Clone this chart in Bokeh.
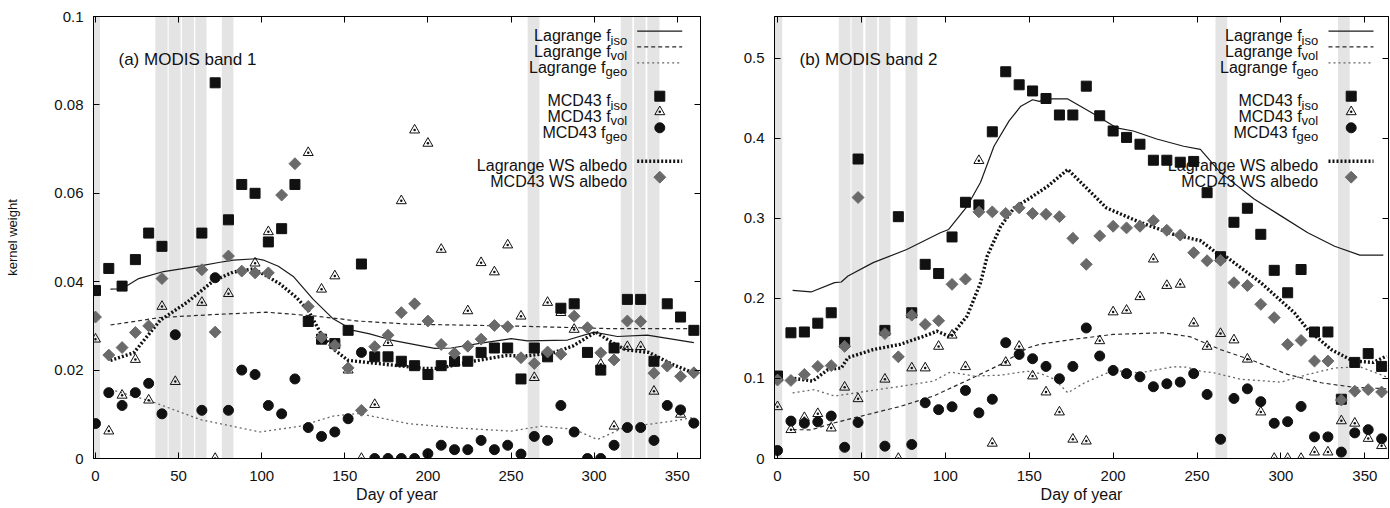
import math
from bokeh.plotting import figure
from bokeh.models import LinearAxis, FixedTicker, Label, Range1d
from bokeh.layouts import row
from bokeh.embed import file_html
from bokeh.resources import INLINE

nan = float("nan")

# ---------------- data ----------------
days = [0, 8, 16, 24, 32, 40, 48, 56, 64, 72, 80, 88, 96, 104, 112, 120, 128, 136, 144, 152,
        160, 168, 176, 184, 192, 200, 208, 216, 224, 232, 240, 248, 256, 264, 272, 280, 288, 296,
        304, 312, 320, 328, 336, 344, 352, 360]

# MODIS band 1 (MCD43 8-day values)
b1_iso = [0.038, 0.043, 0.039, 0.045, 0.051, 0.048, nan, nan, 0.051, 0.085, 0.054, 0.062, 0.060,
          0.049, 0.052, 0.062, 0.031, 0.027, 0.026, 0.029, 0.044, 0.023, 0.023, 0.022, 0.021,
          0.019, 0.021, 0.022, 0.022, 0.024, 0.025, 0.025, 0.018, 0.025, 0.023, 0.034, 0.035,
          0.024, 0.020, 0.025, 0.036, 0.036, 0.022, 0.035, 0.032, 0.029]
b1_vol = [0.027, 0.0062, 0.0143, 0.0224, 0.0132, 0.0344, 0.0174, nan, 0.0353, 0.0, 0.0373, nan,
          0.0442, 0.0513, nan, nan, 0.0692, 0.0383, 0.0413, 0.020, 0.0, 0.0122, 0.0262, 0.0583,
          0.0743, 0.0713, 0.0473, nan, 0.0334, 0.0443, 0.0422, 0.0483, 0.0322, 0.0183, 0.0353,
          0.033, 0.0292, nan, 0.0213, 0.0073, 0.0253, 0.0253, 0.0152, nan, 0.010, nan]
b1_geo = [0.0079, 0.0149, 0.012, 0.0149, 0.017, 0.0101, 0.028, nan, 0.0109, 0.0409, 0.0109,
          0.020, 0.019, 0.012, 0.0101, 0.018, 0.007, 0.005, 0.006, 0.009, 0.024, 0.0, 0.0, 0.0,
          0.0, 0.0011, 0.003, 0.002, 0.002, 0.0041, 0.002, 0.003, 0.001, 0.005, 0.0041, 0.012,
          0.006, 0.0, 0.0, 0.003, 0.007, 0.007, 0.0041, 0.012, 0.011, 0.008]
b1_ws = [0.032, 0.0234, 0.0251, 0.0285, 0.030, 0.0407, nan, nan, 0.0427, 0.0286, 0.0458, 0.0424,
         0.042, 0.042, 0.0596, 0.0667, 0.0344, 0.0274, 0.0256, 0.0205, 0.0109, 0.0253, 0.0279,
         0.033, 0.035, 0.0311, 0.0258, 0.0238, 0.0254, 0.027, 0.0301, 0.0298, 0.0228, 0.0215,
         0.0241, 0.0236, 0.0322, 0.0296, 0.0239, 0.0223, 0.0311, 0.031, 0.0193, 0.0209, 0.0186,
         0.0194]

# Lagrange (daily) curves, band 1, read at knots
b1_lag_iso_day = [9, 16, 26, 41, 63, 75, 83, 97, 101, 110, 119, 131, 143, 155, 165, 178, 204,
                  214, 234, 250, 260, 284, 300, 314, 332, 360]
b1_lag_iso = [0.0383, 0.0384, 0.0407, 0.0423, 0.0436, 0.0444, 0.0449, 0.0452, 0.0449, 0.0435,
              0.0412, 0.036, 0.0316, 0.029, 0.0282, 0.0268, 0.0249, 0.025, 0.0262, 0.0271, 0.0266,
              0.0268, 0.0286, 0.0276, 0.0279, 0.0262]
b1_lag_vol_day = [9, 39, 73, 103, 133, 158, 188, 248, 308, 360]
b1_lag_vol = [0.0302, 0.0319, 0.0326, 0.0331, 0.0322, 0.0311, 0.0304, 0.030, 0.0294, 0.0294]
b1_lag_geo_day = [9, 33, 63, 99, 123, 143, 158, 188, 218, 250, 268, 288, 302, 318, 348, 360]
b1_lag_geo = [0.0156, 0.013, 0.0088, 0.006, 0.0073, 0.0096, 0.0102, 0.0079, 0.0069, 0.0062,
              0.0073, 0.0066, 0.0043, 0.007, 0.0085, 0.0093]
b1_lag_ws_day = [9, 23, 39, 55, 71, 83, 95, 103, 111, 121, 128, 136, 144, 152, 167, 197, 207,
                 227, 247, 259, 275, 287, 301, 311, 319, 333, 347, 360]
b1_lag_ws = [0.0222, 0.0239, 0.0313, 0.0353, 0.0402, 0.0422, 0.0429, 0.0413, 0.0395, 0.0364,
             0.0335, 0.028, 0.0245, 0.0222, 0.0216, 0.0204, 0.0204, 0.022, 0.0233, 0.0232,
             0.0239, 0.0254, 0.0286, 0.0262, 0.0246, 0.024, 0.0213, 0.0193]

# MODIS band 2 (MCD43 8-day values)
b2_iso = [0.103, 0.157, 0.158, 0.169, 0.182, 0.145, 0.374, nan, 0.160, 0.302, 0.182, 0.2425,
          0.231, 0.2767, 0.320, 0.3167, 0.408, 0.483, 0.4667, 0.459, 0.4496, 0.429, 0.429, 0.465,
          0.428, 0.409, 0.401, 0.3925, 0.3725, 0.3725, 0.37, 0.371, 0.332, 0.252, 0.295, 0.3125,
          0.28, 0.235, 0.207, 0.236, 0.158, 0.158, 0.074, 0.120, 0.131, 0.115]
b2_vol = [0.0646, 0.036, 0.051, 0.056, 0.038, 0.089, 0.0746, nan, 0.099, 0.0, 0.113, 0.113,
          0.140, 0.154, 0.1146, 0.372, 0.019, 0.120, 0.140, 0.103, 0.083, 0.058, 0.024, 0.0217,
          0.147, 0.183, 0.185, 0.202, 0.249, 0.216, 0.2175, 0.169, 0.140, 0.156, 0.148, 0.124,
          0.058, 0.0, 0.0, 0.0, 0.008, 0.008, 0.047, 0.044, 0.025, 0.016]
b2_geo = [0.010, 0.0467, 0.044, 0.0458, 0.053, 0.014, 0.045, nan, 0.0154, nan, 0.0175, 0.0696,
          0.061, 0.0646, 0.085, 0.057, 0.074, 0.1446, 0.13, 0.1246, 0.115, 0.0996, 0.115, 0.163,
          0.128, 0.110, 0.106, 0.102, 0.0896, 0.0933, 0.0954, 0.106, 0.080, 0.024, 0.075, 0.087,
          0.071, 0.044, 0.046, 0.065, 0.027, 0.027, 0.008, 0.032, 0.036, 0.0246]
b2_ws = [0.098, 0.0975, 0.105, 0.115, 0.116, 0.140, 0.326, nan, 0.156, 0.127, 0.179, 0.1675,
         0.172, 0.2175, 0.224, 0.308, 0.308, 0.306, 0.313, 0.306, 0.305, 0.302, 0.275, 0.2425,
         0.278, 0.290, 0.288, 0.290, 0.297, 0.285, 0.279, 0.257, 0.247, 0.2475, 0.2196, 0.216,
         0.1925, 0.176, 0.1425, 0.1475, 0.1217, 0.1217, 0.073, 0.084, 0.086, 0.083]

b2_lag_iso_day = [9, 20, 34, 38, 42, 57, 77, 97, 102, 113, 121, 129, 138, 145, 152, 156, 160,
                  173, 187, 202, 212, 226, 242, 252, 264, 284, 300, 316, 332, 347, 361]
b2_lag_iso = [0.210, 0.208, 0.2196, 0.2204, 0.228, 0.2446, 0.261, 0.282, 0.286, 0.315, 0.345,
              0.390, 0.4217, 0.440, 0.448, 0.446, 0.449, 0.449, 0.432, 0.413, 0.409, 0.399,
              0.390, 0.386, 0.357, 0.324, 0.303, 0.282, 0.265, 0.254, 0.254]
b2_lag_vol_day = [9, 20, 34, 50, 73, 93, 113, 133, 149, 157, 177, 200, 230, 246, 264, 284, 304,
                  324, 343, 364]
b2_lag_vol = [0.036, 0.0358, 0.0446, 0.053, 0.065, 0.078, 0.0975, 0.1175, 0.138, 0.143, 0.149,
              0.155, 0.157, 0.152, 0.136, 0.1217, 0.105, 0.0946, 0.089, 0.087]
b2_lag_geo_day = [9, 22, 34, 53, 73, 93, 103, 117, 133, 149, 157, 165, 173, 183, 200, 216, 236,
                  244, 252, 260, 276, 300, 316, 332, 347, 364]
b2_lag_geo = [0.082, 0.086, 0.078, 0.084, 0.090, 0.0967, 0.108, 0.103, 0.104, 0.109, 0.106,
              0.099, 0.082, 0.0946, 0.110, 0.107, 0.1146, 0.114, 0.109, 0.107, 0.099, 0.0954,
              0.105, 0.113, 0.1146, 0.101]
b2_lag_ws_day = [10, 21, 30, 38, 42, 57, 73, 89, 95, 103, 113, 121, 125, 133, 141, 151, 161,
                 173, 185, 196, 216, 236, 252, 264, 268, 288, 308, 316, 330, 343, 355, 363]
b2_lag_ws = [0.100, 0.0967, 0.111, 0.113, 0.126, 0.136, 0.1425, 0.154, 0.159, 0.152, 0.178,
             0.2196, 0.253, 0.290, 0.313, 0.326, 0.340, 0.361, 0.336, 0.313, 0.295, 0.280,
             0.272, 0.253, 0.251, 0.2196, 0.182, 0.161, 0.136, 0.1217, 0.120, 0.128]

# periods without data (grey bands), day of year
b1_gap_start = [-3, 36, 44, 52, 60, 76, 260, 316, 324, 332]
b1_gap_end = [2.7, 43.4, 51.2, 59.3, 66.8, 83, 267.1, 323, 331, 339.3]
b2_gap_start = [-3, 36.5, 44.1, 52.4, 60.4, 76.3, 261, 334]
b2_gap_end = [2.8, 43.5, 51.1, 59.4, 67.3, 83.3, 268, 341]

x_ticks = [0, 50, 100, 150, 200, 250, 300, 350]
x_tick_labels = ["0", "50", "100", "150", "200", "250", "300", "350"]
b1_y_ticks = [0, 0.02, 0.04, 0.06, 0.08, 0.1]
b1_y_tick_labels = ["0", "0.02", "0.04", "0.06", "0.08", "0.1"]
b2_y_ticks = [0, 0.1, 0.2, 0.3, 0.4, 0.5]
b2_y_tick_labels = ["0", "0.1", "0.2", "0.3", "0.4", "0.5"]

legend_main = ["Lagrange f", "Lagrange f", "Lagrange f", "MCD43 f", "MCD43 f", "MCD43 f",
               "Lagrange WS albedo", "MCD43 WS albedo"]
legend_sub = ["iso", "vol", "geo", "iso", "vol", "geo", "", ""]

FONT = "Liberation Sans"
INK = "#111111"
GREY_BAND = "#e4e4e4"
DIAMOND = "#6a6a6a"

# Arial / Liberation Sans glyph advance widths (em) for subscript sizing
ADV = {"i": 0.222, "s": 0.5, "o": 0.556, "v": 0.5, "l": 0.222, "g": 0.556, "e": 0.556}
SUB_SIZE = 13.0

FRAME_H = 442
TOP = 16
BOTTOM = 50


def style_axis(ax):
    ax.axis_line_color = "black"
    ax.major_tick_line_color = "black"
    ax.major_tick_in = 6
    ax.major_tick_out = 0
    ax.minor_tick_line_color = None
    ax.major_label_text_font = FONT
    ax.major_label_text_font_size = "15px"
    ax.major_label_text_color = INK


def build(x_rng, y_rng, fw, bl, br, yt, ytl, ylab, gs, ge, iso, vol, geo, ws,
          liso, lvol, lgeo, lws, title, txt_dx, line_dx, mark_dx):
    x0, x1 = x_rng
    y0, y1 = y_rng
    fh = FRAME_H
    p = figure(frame_width=fw, frame_height=fh, x_range=Range1d(x0, x1),
               y_range=Range1d(y0, y1), min_border_left=bl, min_border_right=br,
               min_border_top=TOP, min_border_bottom=BOTTOM, output_backend="svg",
               toolbar_location=None)
    p.grid.visible = False
    p.outline_line_color = "black"
    p.outline_line_width = 1

    xb = p.below[0]
    yl = p.left[0]
    xb.ticker = FixedTicker(ticks=x_ticks)
    xb.major_label_overrides = dict(zip(x_ticks, x_tick_labels))
    yl.ticker = FixedTicker(ticks=yt)
    yl.major_label_overrides = dict(zip(yt, ytl))
    style_axis(xb)
    style_axis(yl)
    xb.major_label_standoff = 12
    xb.axis_label = "Day of year"
    xb.axis_label_text_font = FONT
    xb.axis_label_text_font_size = "16px"
    xb.axis_label_text_font_style = "normal"
    xb.axis_label_text_color = INK
    xb.axis_label_standoff = 2
    yl.major_label_standoff = 10
    if ylab:
        yl.axis_label = ylab
        yl.axis_label_text_font = FONT
        yl.axis_label_text_font_size = "13px"
        yl.axis_label_text_font_style = "normal"
        yl.axis_label_text_color = INK
        yl.axis_label_standoff = 31

    # mirror axes: ticks only, labels not drawn
    for loc, ticks in (("right", yt), ("above", x_ticks)):
        ax = LinearAxis(ticker=FixedTicker(ticks=ticks))
        style_axis(ax)
        ax.major_label_text_font_size = "0px"
        ax.major_label_text_color = None
        ax.major_label_standoff = 0
        p.add_layout(ax, loc)

    # grey bands
    p.quad(left=gs, right=ge, bottom=y0, top=y1, fill_color=GREY_BAND, line_color=None)

    # Lagrange curves
    p.line(liso[0], liso[1], line_color="#1a1a1a", line_width=1.2)
    p.line(lvol[0], lvol[1], line_color="#2a2a2a", line_width=1.2, line_dash="4 3")
    p.line(lgeo[0], lgeo[1], line_color="#666666", line_width=1.3, line_dash="2 3")

    # MCD43 points
    p.scatter(days, iso, marker="square", size=10, fill_color=INK, line_color=INK)
    p.scatter(days, vol, marker="triangle_dot", size=10, fill_alpha=0, line_color=INK,
              line_width=1)
    p.scatter(days, geo, marker="circle", size=10, fill_color=INK, line_color=INK)
    p.line(lws[0], lws[1], line_color=INK, line_width=3.4, line_dash="2 2")
    p.scatter(days, ws, marker="square", angle=math.pi / 4, size=8.4, fill_color=DIAMOND,
              line_color=DIAMOND)

    # helpers: pixel offsets (relative to frame) -> data coordinates
    sx = (x1 - x0) / fw
    sy = (y1 - y0) / fh

    def XR(dx):
        return x1 + dx * sx

    def XL(dx):
        return x0 + dx * sx

    def YT(dy):
        return y1 - dy * sy

    # panel title
    p.add_layout(Label(x=XL(25), y=YT(43), text=title, text_font=FONT, text_font_size="17px",
                       text_color=INK, text_align="left", text_baseline="alphabetic"))

    # legend
    rows = [14.7, 30.3, 46.3, 79.7, 95.3, 111.3, 144.7, 160.7]
    for i, (main, sub) in enumerate(zip(legend_main, legend_sub)):
        cy = rows[i]
        sub_w = sum(ADV[c] for c in sub) * SUB_SIZE
        p.add_layout(Label(x=XR(txt_dx - sub_w), y=YT(cy + 4.4), text=main, text_font=FONT,
                           text_font_size="16px", text_color=INK, text_align="right",
                           text_baseline="alphabetic"))
        if sub:
            p.add_layout(Label(x=XR(txt_dx - sub_w), y=YT(cy + 9.0), text=sub, text_font=FONT,
                               text_font_size="13px", text_color=INK, text_align="left",
                               text_baseline="alphabetic"))
    lx = [XR(line_dx[0]), XR(line_dx[1])]
    p.line(lx, [YT(rows[0])] * 2, line_color="#1a1a1a", line_width=1.2)
    p.line(lx, [YT(rows[1])] * 2, line_color="#2a2a2a", line_width=1.2, line_dash="4 3")
    p.line(lx, [YT(rows[2])] * 2, line_color="#666666", line_width=1.3, line_dash="2 3")
    mx = XR(mark_dx)
    p.scatter([mx], [YT(rows[3])], marker="square", size=10, fill_color=INK, line_color=INK)
    p.scatter([mx], [YT(rows[4])], marker="triangle_dot", size=10, fill_alpha=0,
              line_color=INK)
    p.scatter([mx], [YT(rows[5])], marker="circle", size=10, fill_color=INK, line_color=INK)
    p.line(lx, [YT(rows[6])] * 2, line_color=INK, line_width=3.4, line_dash="2 2")
    p.scatter([mx], [YT(rows[7])], marker="square", angle=math.pi / 4, size=8.4,
              fill_color=DIAMOND, line_color=DIAMOND)
    return p


p1 = build((-1.2, 364), (0, 0.1), 607, 93, 6, b1_y_ticks, b1_y_tick_labels,
           "kernel weight", b1_gap_start, b1_gap_end, b1_iso, b1_vol, b1_geo, b1_ws,
           (b1_lag_iso_day, b1_lag_iso), (b1_lag_vol_day, b1_lag_vol),
           (b1_lag_geo_day, b1_lag_geo), (b1_lag_ws_day, b1_lag_ws),
           "(a) MODIS band 1", -73.3, (-63.3, -18.3), -40.7)
p2 = build((-1.8, 364.1), (0, 0.552), 614, 68, 2, b2_y_ticks, b2_y_tick_labels,
           None, b2_gap_start, b2_gap_end, b2_iso, b2_vol, b2_geo, b2_ws,
           (b2_lag_iso_day, b2_lag_iso), (b2_lag_vol_day, b2_lag_vol),
           (b2_lag_geo_day, b2_lag_geo), (b2_lag_ws_day, b2_lag_ws),
           "(b) MODIS band 2", -70.3, (-60, -15), -37.3)

layout = row(p1, p2)
open("out.html", "w").write(file_html(layout, INLINE))
